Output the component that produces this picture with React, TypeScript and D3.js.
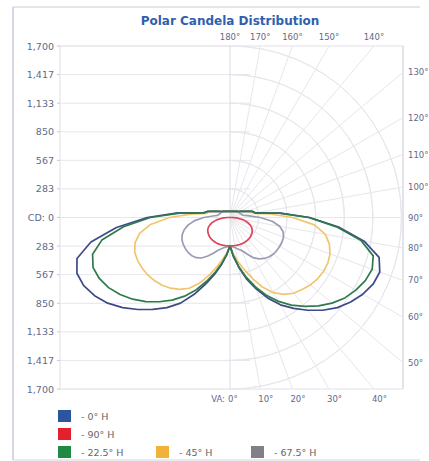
import React from 'react';
import * as d3 from 'd3';

// ---------- data ----------
const verticalAngles = [0, 5, 10, 15, 20, 25, 30, 35, 40, 45, 50, 55, 60, 65, 70, 75, 80, 85, 90, 95, 100, 105, 110, 115, 120, 125, 130, 135, 140, 145, 150, 155, 160, 165, 170, 175, 180];

const cdTicks = [0, 283.33, 566.67, 850, 1133.33, 1416.67, 1700];
const cdTickLabels = ['CD: 0', '283', '567', '850', '1,133', '1,417', '1,700'];
const topAngleTicks = [180, 170, 160, 150, 140];
const rightAngleTicks = [130, 120, 110, 100, 90, 80, 70, 60, 50];
const bottomAngleTicks = [0, 10, 20, 30, 40];

// candela per vertical angle; "Right" = listed H plane, "Left" = opposite plane
const h0Right = [280, 390, 500, 630, 750, 880, 1000, 1100, 1200, 1300, 1390, 1460, 1520, 1565, 1580, 1530, 1350, 1080, 790, 500, 260, 232, 175, 142, 120, 104, 93, 85, 78, 73, 69, 66, 64, 62, 61, 60, 60];
const h0Left = [280, 370, 470, 580, 700, 840, 980, 1090, 1190, 1290, 1390, 1480, 1550, 1600, 1615, 1570, 1400, 1130, 820, 520, 270, 232, 175, 142, 120, 104, 93, 85, 78, 73, 69, 66, 64, 62, 61, 60, 60];
const h90Right = [280, 281, 282, 284, 285, 286, 286, 285, 283, 280, 274, 266, 255, 238, 212, 178, 135, 80, 25, 0, 0, 0, 0, 0, 0, 0, 0, 0, 0, 0, 0, 0, 0, 0, 0, 0, 0];
const h90Left = [280, 281, 282, 284, 285, 286, 286, 285, 283, 280, 274, 266, 255, 238, 212, 178, 135, 80, 25, 0, 0, 0, 0, 0, 0, 0, 0, 0, 0, 0, 0, 0, 0, 0, 0, 0, 0];
const h22Right = [280, 380, 490, 610, 730, 850, 960, 1060, 1150, 1240, 1320, 1390, 1440, 1480, 1500, 1470, 1320, 1060, 780, 490, 255, 232, 175, 142, 120, 104, 93, 85, 78, 73, 69, 66, 64, 62, 61, 60, 60];
const h22Left = [280, 370, 460, 560, 670, 790, 900, 1000, 1090, 1180, 1260, 1330, 1390, 1430, 1445, 1410, 1290, 1060, 790, 500, 260, 232, 175, 142, 120, 104, 93, 85, 78, 73, 69, 66, 64, 62, 61, 60, 60];
const h45Right = [280, 360, 440, 530, 640, 760, 860, 930, 980, 1010, 1040, 1060, 1070, 1070, 1055, 1020, 960, 840, 620, 400, 240, 220, 175, 142, 120, 104, 93, 85, 78, 73, 69, 66, 64, 62, 61, 60, 60];
const h45Left = [280, 350, 420, 510, 610, 720, 810, 870, 915, 950, 975, 995, 1005, 1010, 1005, 975, 910, 790, 600, 390, 235, 220, 175, 142, 120, 104, 93, 85, 78, 73, 69, 66, 64, 62, 61, 60, 60];
const h67Right = [280, 290, 305, 325, 350, 400, 460, 500, 530, 550, 563, 568, 570, 570, 565, 545, 500, 420, 300, 190, 130, 120, 110, 105, 100, 95, 90, 85, 78, 73, 69, 66, 64, 62, 61, 60, 60];
const h67Left = [280, 290, 300, 320, 345, 390, 440, 490, 520, 535, 540, 540, 535, 525, 505, 470, 420, 350, 260, 170, 125, 115, 108, 104, 100, 95, 90, 85, 78, 73, 69, 66, 64, 62, 61, 60, 60];

const seriesNames = ['0° H', '90° H', '22.5° H', '45° H', '67.5° H'];
const seriesRight = [h0Right, h90Right, h22Right, h45Right, h67Right];
const seriesLeft = [h0Left, h90Left, h22Left, h45Left, h67Left];
const lineColors = ['#3c4a88', '#d9475a', '#2f7a4c', '#f3c46e', '#9c9cb4'];
const swatchColors = ['#2b55a0', '#e4202e', '#1f8a44', '#f2b23a', '#808088'];
const drawOrder = [4, 3, 0, 2, 1];

// ---------- layout ----------
const W = 429;
const H = 461;
const cx = 230;
const cy = 217.5;
const R = 171.5;
const plotLeft = 60;
const plotRight = 403;
const plotTop = cy - R;
const plotBottom = cy + R;

const rScale = d3.scaleLinear().domain([0, 1700]).range([0, R]);
const toRad = (deg: number) => (deg * Math.PI) / 180;

function seriesPath(right: number[], left: number[]): string {
  const pts: [number, number][] = [];
  verticalAngles.forEach((a, i) => pts.push([Math.PI - toRad(a), rScale(right[i])]));
  for (let i = verticalAngles.length - 2; i >= 1; i--) {
    pts.push([Math.PI + toRad(verticalAngles[i]), rScale(left[i])]);
  }
  return d3.lineRadial<[number, number]>().angle(d => d[0]).radius(d => d[1]).curve(d3.curveLinearClosed)(pts) || '';
}

// intersection of a ray (vertical angle from nadir, right half) with the plot rect
function rayEnd(deg: number): [number, number] {
  const s = Math.sin(toRad(deg));
  const c = Math.cos(toRad(deg));
  let t = Infinity;
  if (s > 1e-9) t = Math.min(t, (plotRight - cx) / s);
  if (c > 1e-9) t = Math.min(t, (plotBottom - cy) / c);
  if (c < -1e-9) t = Math.min(t, (plotTop - cy) / c);
  return [cx + t * s, cy + t * c];
}

const gridColor = '#e6e6ec';
const labelColor = '#5f6989';
const fontFam = '"DejaVu Sans", Verdana, sans-serif';

export default function App() {
  const arcGen = d3.arc();
  const radialAngles = d3.range(10, 180, 10);
  const legendRows: { idx: number; x: number; row: number }[] = [
    { idx: 0, x: 58, row: 0 },
    { idx: 1, x: 58, row: 1 },
    { idx: 2, x: 58, row: 2 },
    { idx: 3, x: 156, row: 2 },
    { idx: 4, x: 251, row: 2 },
  ];
  return (
    <div style={{ position: 'absolute', left: 0, top: 0 }}>
      <svg width={W} height={H} style={{ display: 'block', background: '#fff' }} fontFamily={fontFam}>
        <defs>
          <clipPath id="plotClip">
            <rect x={plotLeft} y={plotTop} width={plotRight - plotLeft} height={plotBottom - plotTop} />
          </clipPath>
        </defs>
        {/* outer frame */}
        <line x1={13} y1={7} x2={420} y2={7} stroke="#c9c9d6" />
        <line x1={13} y1={7} x2={13} y2={460} stroke="#c9c9e4" strokeWidth={1.5} />
        <line x1={13} y1={460} x2={420} y2={460} stroke="#d4d4e0" />

        {/* title */}
        <text x={cx} y={25} textAnchor="middle" fontWeight="bold" fontSize={12} fill="#2f5fae">
          Polar Candela Distribution
        </text>

        {/* plot border */}
        <rect x={plotLeft} y={plotTop} width={plotRight - plotLeft} height={plotBottom - plotTop} fill="none" stroke="#e2e2ea" />
        <line x1={plotRight} y1={plotTop} x2={plotRight} y2={plotBottom} stroke="#d6d6e0" />

        {/* left: horizontal grid */}
        {cdTicks.map((v, i) => (
          <g key={'h' + i}>
            <line x1={plotLeft} x2={cx + 20} y1={cy - rScale(v)} y2={cy - rScale(v)} stroke={gridColor} />
            <line x1={plotLeft} x2={cx + 20} y1={cy + rScale(v)} y2={cy + rScale(v)} stroke={gridColor} />
            <line x1={plotLeft - 3} x2={plotLeft} y1={cy - rScale(v)} y2={cy - rScale(v)} stroke="#c8c8d4" />
            <line x1={plotLeft - 3} x2={plotLeft} y1={cy + rScale(v)} y2={cy + rScale(v)} stroke="#c8c8d4" />
          </g>
        ))}
        {/* right: polar grid */}
        <g clipPath="url(#plotClip)">
          {cdTicks.slice(1).map((v, i) => (
            <path
              key={'a' + i}
              transform={`translate(${cx},${cy})`}
              d={arcGen({ innerRadius: rScale(v), outerRadius: rScale(v), startAngle: 0, endAngle: Math.PI } as any) || ''}
              fill="none"
              stroke={gridColor}
            />
          ))}
          {radialAngles.map(a => {
            const [x, y] = rayEnd(a);
            return <line key={'r' + a} x1={cx} y1={cy} x2={x} y2={y} stroke={gridColor} />;
          })}
          <line x1={cx} y1={plotTop} x2={cx} y2={plotBottom} stroke="#dcdce4" />
        </g>

        {/* candela curves */}
        <g clipPath="url(#plotClip)">
          <g transform={`translate(${cx},${cy})`}>
            {drawOrder.map(k => (
              <path key={'s' + k} d={seriesPath(seriesRight[k], seriesLeft[k])} fill="none" stroke={lineColors[k]} strokeWidth={1.7} strokeLinejoin="round" />
            ))}
          </g>
        </g>

        {/* CD labels */}
        {cdTicks.map((v, i) => (
          <g key={'cl' + i} fontSize={9.5} fill={labelColor} textAnchor="end">
            <text x={54} y={cy - rScale(v) + 3.5}>{cdTickLabels[i]}</text>
            {i > 0 && <text x={54} y={cy + rScale(v) + 3.5}>{cdTickLabels[i]}</text>}
          </g>
        ))}

        {/* angle labels */}
        <g fontSize={8.5} fill={labelColor}>
          {topAngleTicks.map(a => {
            const [x] = rayEnd(a);
            return (
              <text key={'t' + a} x={x} y={plotTop - 6} textAnchor="middle">{a + '°'}</text>
            );
          })}
          {rightAngleTicks.map(a => {
            const [, y] = rayEnd(a);
            return (
              <text key={'ra' + a} x={plotRight + 5} y={y + 3}>{a + '°'}</text>
            );
          })}
          {bottomAngleTicks.map(a => {
            const [x] = rayEnd(a);
            return (
              <text key={'b' + a} x={x - 2} y={plotBottom + 13}>{a + '°'}</text>
            );
          })}
          <text x={cx - 5} y={plotBottom + 13} textAnchor="end">VA:</text>
        </g>

        {/* legend */}
        {legendRows.map(item => {
          const y = 410 + item.row * 18;
          return (
            <g key={'lg' + item.idx}>
              <rect x={item.x} y={y} width={13} height={12} fill={swatchColors[item.idx]} />
              <text x={item.x + 23} y={y + 10} fontSize={9.5} fill="#666">{'- ' + seriesNames[item.idx]}</text>
            </g>
          );
        })}
      </svg>
    </div>
  );
}
